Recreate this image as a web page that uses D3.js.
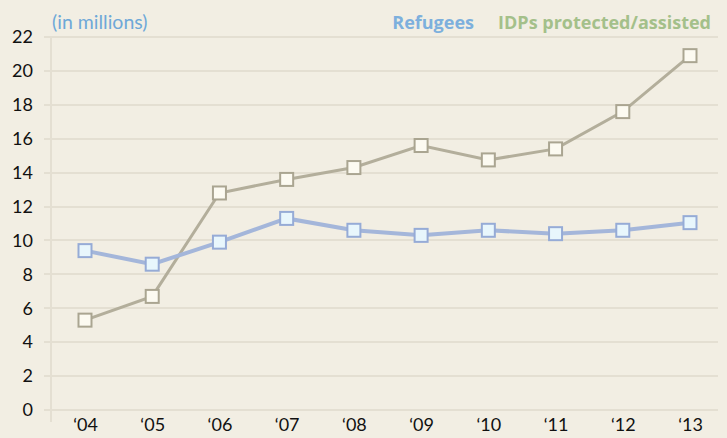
<!DOCTYPE html>
<html lang="en">
  <head>
    <meta charset="UTF-8"/>
    <title>Refugees and IDPs</title>
    <script src="https://d3js.org/d3.v7.min.js"></script>
    <style>
        body {
          margin: 0;
          background: #f2eee3;
        }
        .axis text {
          font-family: Lato, sans-serif;
          font-size: 18px;
          fill: #111;
        }
        .axis path,
        .axis line {
          display: none;
        }
        .grid line {
          stroke: #e4dfd2;
          stroke-width: 2;
          shape-rendering: crispEdges;
        }
    </style>
  </head>
  <body>
    <script>
        const years = ["‘04", "‘05", "‘06", "‘07", "‘08", "‘09", "‘10", "‘11", "‘12", "‘13"]
        const refugees = [9.4, 8.6, 9.9, 11.3, 10.6, 10.3, 10.6, 10.4, 10.6, 11.05]
        const idps = [5.3, 6.7, 12.8, 13.6, 14.3, 15.6, 14.75, 15.4, 17.6, 20.9]
        const yTicks = [0, 2, 4, 6, 8, 10, 12, 14, 16, 18, 20, 22]

        const outerWidth = 727,
          outerHeight = 438

        // plot box: 0 sits at y=410, 22 at y=37
        const xScale = d3.scalePoint()
            .domain(years)
            .range([85, 690])

        const yScale = d3.scaleLinear()
            .domain([0, 22])
            .range([410, 37])

        const svg = d3.select("body").append("svg")
            .attr("width", outerWidth)
            .attr("height", outerHeight)

        svg.append("rect")
            .attr("width", outerWidth)
            .attr("height", outerHeight)
            .attr("fill", "#f2eee3")

        // horizontal gridlines
        svg.append("g")
            .attr("class", "grid")
          .selectAll("line")
          .data(yTicks)
          .join("line")
            .attr("x1", 44)
            .attr("x2", 718)
            .attr("y1", d => Math.round(yScale(d)))
            .attr("y2", d => Math.round(yScale(d)))

        // faint left axis line
        svg.append("line")
            .attr("x1", 51).attr("x2", 51)
            .attr("y1", yScale(22)).attr("y2", yScale(0) + 12)
            .attr("stroke", "#e4dfd2")
            .attr("stroke-width", 2)

        // y axis labels
        svg.append("g")
            .attr("class", "y axis")
            .attr("transform", "translate(33, 0)")
            .call(d3.axisLeft(yScale).tickValues(yTicks).tickSize(0).tickPadding(0))

        // x axis labels
        svg.append("g")
            .attr("class", "x axis")
            .attr("transform", "translate(0, 415)")
            .call(d3.axisBottom(xScale).tickSize(0).tickPadding(3))

        const line = d3.line()
            .x((d, i) => xScale(years[i]))
            .y(d => yScale(d))

        // IDP series
        svg.append("path")
            .datum(idps)
            .attr("fill", "none")
            .attr("stroke", "#b3ae9b")
            .attr("stroke-width", 3)
            .attr("d", line)

        // Refugee series
        svg.append("path")
            .datum(refugees)
            .attr("fill", "none")
            .attr("stroke", "#a4b6da")
            .attr("stroke-width", 4)
            .attr("d", line)

        const size = 13

        svg.append("g")
          .selectAll("rect")
          .data(idps)
          .join("rect")
            .attr("x", (d, i) => xScale(years[i]) - size / 2)
            .attr("y", d => yScale(d) - size / 2)
            .attr("width", size)
            .attr("height", size)
            .attr("fill", "#fcfaf1")
            .attr("stroke", "#aaa591")
            .attr("stroke-width", 2)

        svg.append("g")
          .selectAll("rect")
          .data(refugees)
          .join("rect")
            .attr("x", (d, i) => xScale(years[i]) - size / 2)
            .attr("y", d => yScale(d) - size / 2)
            .attr("width", size)
            .attr("height", size)
            .attr("fill", "#e8f6fc")
            .attr("stroke", "#96abd6")
            .attr("stroke-width", 2)

        // unit note
        svg.append("text")
            .attr("x", 52)
            .attr("y", 29)
            .attr("font-family", "Lato, sans-serif")
            .attr("font-size", 19.5)
            .attr("fill", "#6ea8d8")
            .text("(in millions)")

        // legend
        svg.append("text")
            .attr("x", 474)
            .attr("y", 29)
            .attr("text-anchor", "end")
            .attr("font-family", "'Open Sans', sans-serif")
            .attr("font-weight", "bold")
            .attr("font-size", 18)
            .attr("fill", "#7db0dd")
            .text("Refugees")

        svg.append("text")
            .attr("x", 711)
            .attr("y", 29)
            .attr("text-anchor", "end")
            .attr("font-family", "'Open Sans', sans-serif")
            .attr("font-weight", "bold")
            .attr("font-size", 18)
            .attr("fill", "#a4c08a")
            .text("IDPs protected/assisted")
    </script>
  </body>
</html>
